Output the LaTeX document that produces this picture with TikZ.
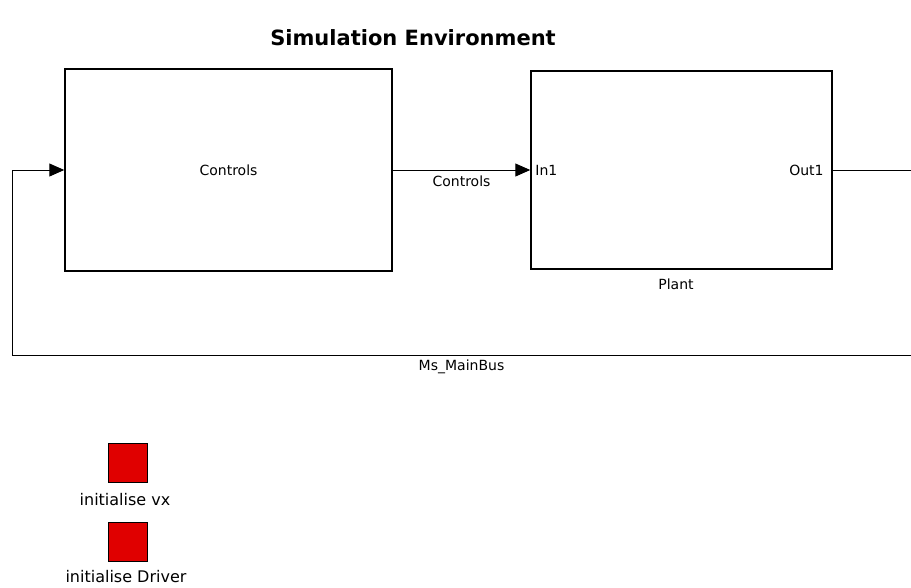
\documentclass[tikz,border=0pt]{standalone}
\usepackage{fontspec}
\setmainfont{DejaVu Sans}
\usetikzlibrary{arrows.meta,positioning}
\definecolor{blockred}{RGB}{224,0,0}
\tikzset{
  block/.style={draw, line width=1.5pt},
  sig/.style={line width=1pt, -{Triangle[length=15pt,width=13pt]}},
  wire/.style={line width=1pt},
  flag/.style={draw, line width=1pt, fill=blockred, minimum size=39pt, inner sep=0pt},
  lbl/.style={font=\fontsize{14}{16}\selectfont, inner sep=1pt}
}
\begin{document}
\begin{tikzpicture}[x=1pt, y=-1pt, every node/.style={font=\fontsize{14}{16}\selectfont}]
\useasboundingbox (0,0) rectangle (911,587);

\node (title) at (413,38) {\fontsize{21}{24}\selectfont\bfseries Simulation Environment};

% blocks
\node[block, minimum width=327pt, minimum height=202pt] (ctrl) at (228.5,170) {Controls};
\node[block, minimum width=301pt, minimum height=198pt] (plant) at (681.5,170) {};
\node[lbl, anchor=west] (in1) at ([xshift=4pt]plant.west) {In1};
\node[lbl, anchor=east] (out1) at ([xshift=-8pt]plant.east) {Out1};
\node[lbl] (plantlbl) at (676,284) {Plant};

\coordinate (outend) at (911,170);
\coordinate (busend) at (911,355);
\coordinate (busleft) at (12,355);

\draw[sig] (ctrl.east) -- node[lbl, below=4pt] (ctrlsig) {Controls} (plant.west);
\draw[wire] (plant.east) -- (outend);
\draw[sig] (busend) -- node[lbl, below=3pt] (bus) {Ms\_MainBus} (busleft) |- (ctrl.west);

% init blocks
\node[flag] (initvx) at (127.5,462.5) {};
\node[font=\fontsize{16}{18}\selectfont] (initvxlbl) at (125,500) {initialise vx};
\node[flag] (initdrv) at (127.5,542) {};
\node[font=\fontsize{16}{18}\selectfont] (initdrvlbl) at (126,577) {initialise Driver};

\end{tikzpicture}
\end{document}
